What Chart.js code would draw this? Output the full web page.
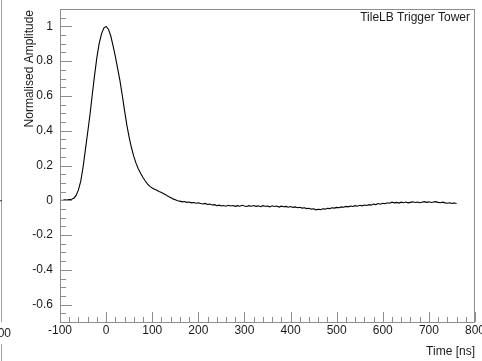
<!DOCTYPE html>
<html>
<head>
<meta charset="utf-8">
<script src="https://cdn.jsdelivr.net/npm/chart.js@4.4.1/dist/chart.umd.min.js"></script>
<style>
  html, body { margin: 0; padding: 0; background: #fff; }
  #wrap { width: 482px; height: 361px; }
</style>
</head>
<body>
<div id="wrap"><canvas id="pulse" width="482" height="361"></canvas></div>
<script>
// sample times (ns)
const times = [
  -100, -95, -90, -85, -80, -75, -70, -65, -60, -55,
  -50, -45, -40, -35, -30, -25, -20, -15, -10, -5,
  0, 5, 10, 15, 20, 25, 30, 35, 40, 45,
  50, 55, 60, 65, 70, 75, 80, 85, 90, 95,
  100, 105, 110, 115, 120, 125, 130, 135, 140, 145,
  150, 155, 160, 165, 170, 175, 180, 185, 190, 195,
  200, 205, 210, 215, 220, 225, 230, 235, 240, 245,
  250, 255, 260, 265, 270, 275, 280, 285, 290, 295,
  300, 305, 310, 315, 320, 325, 330, 335, 340, 345,
  350, 355, 360, 365, 370, 375, 380, 385, 390, 395,
  400, 405, 410, 415, 420, 425, 430, 435, 440, 445,
  450, 455, 460, 465, 470, 475, 480, 485, 490, 495,
  500, 505, 510, 515, 520, 525, 530, 535, 540, 545,
  550, 555, 560, 565, 570, 575, 580, 585, 590, 595,
  600, 605, 610, 615, 620, 625, 630, 635, 640, 645,
  650, 655, 660, 665, 670, 675, 680, 685, 690, 695,
  700, 705, 710, 715, 720, 725, 730, 735, 740, 745,
  750, 755, 760
];

// normalised amplitude
const amplitude = [
  0.002, -0.001, 0.003, 0.001, 0.004, 0.006, 0.012, 0.028, 0.060, 0.110,
  0.190, 0.290, 0.390, 0.492, 0.608, 0.720, 0.822, 0.902, 0.957, 0.990,
  1.000, 0.984, 0.946, 0.890, 0.828, 0.758, 0.688, 0.605, 0.516, 0.432,
  0.362, 0.302, 0.252, 0.212, 0.180, 0.154, 0.131, 0.111, 0.093, 0.080,
  0.071, 0.063, 0.057, 0.050, 0.045, 0.037, 0.031, 0.022, 0.016, 0.008,
  0.003, -0.003, -0.005, -0.009, -0.007, -0.012, -0.010, -0.015, -0.013, -0.017,
  -0.014, -0.019, -0.021, -0.018, -0.024, -0.022, -0.027, -0.025, -0.031, -0.028,
  -0.033, -0.030, -0.034, -0.029, -0.033, -0.030, -0.035, -0.031, -0.034, -0.029,
  -0.033, -0.036, -0.031, -0.034, -0.030, -0.035, -0.032, -0.037, -0.031, -0.034,
  -0.033, -0.038, -0.032, -0.036, -0.033, -0.039, -0.034, -0.037, -0.035, -0.040,
  -0.036, -0.041, -0.038, -0.043, -0.040, -0.045, -0.043, -0.048, -0.046, -0.051,
  -0.049, -0.055, -0.052, -0.054, -0.049, -0.051, -0.046, -0.048, -0.043, -0.045,
  -0.041, -0.043, -0.038, -0.040, -0.035, -0.038, -0.033, -0.036, -0.031, -0.034,
  -0.029, -0.032, -0.027, -0.030, -0.025, -0.028, -0.022, -0.025, -0.019, -0.023,
  -0.017, -0.020, -0.014, -0.017, -0.011, -0.015, -0.012, -0.016, -0.011, -0.014,
  -0.010, -0.015, -0.012, -0.009, -0.013, -0.010, -0.014, -0.011, -0.008, -0.012,
  -0.009, -0.013, -0.010, -0.008, -0.012, -0.014, -0.011, -0.015, -0.017, -0.014,
  -0.018, -0.016, -0.019
];

const xTicks = [-100, 0, 100, 200, 300, 400, 500, 600, 700, 800];
const yTicks = [-0.6, -0.4, -0.2, 0, 0.2, 0.4, 0.6, 0.8, 1];

const FONT = "Liberation Sans, Arial, Helvetica, sans-serif";
const frameColor = "#8e8e8e";
const textColor = "#1a1a1a";

// ROOT-like frame: inward ticks, titles, and the label in the corner
const rootFrame = {
  id: "rootFrame",
  afterDraw(chart) {
    const ctx = chart.ctx;
    const a = chart.chartArea;
    const xs = chart.scales.x, ys = chart.scales.y;
    ctx.save();

    ctx.strokeStyle = frameColor;
    ctx.lineWidth = 1;
    ctx.strokeRect(a.left + 0.5, a.top + 0.5, a.right - a.left - 1, a.bottom - a.top);

    // x ticks (major 100, minor 20)
    ctx.beginPath();
    for (let t = -100; t <= 800; t += 20) {
      const px = Math.round(xs.getPixelForValue(t)) + 0.5;
      const len = (t % 100 === 0) ? 10 : 5;
      ctx.moveTo(px, a.bottom);
      ctx.lineTo(px, a.bottom - len);
    }
    // y ticks (major 0.2, minor 0.05)
    for (let k = -14; k <= 22; k++) {
      const v = k * 0.05;
      const py = Math.round(ys.getPixelForValue(v)) + 0.5;
      const len = (k % 4 === 0) ? 12 : 6;
      ctx.moveTo(a.left, py);
      ctx.lineTo(a.left + len, py);
    }
    ctx.stroke();

    ctx.fillStyle = textColor;
    ctx.font = "12px " + FONT;

    // y title
    ctx.save();
    ctx.translate(30, 10);
    ctx.rotate(-Math.PI / 2);
    ctx.textAlign = "right";
    ctx.textBaseline = "middle";
    ctx.fillText("Normalised Amplitude", 0, 0);
    ctx.restore();

    // x title
    ctx.textAlign = "right";
    ctx.textBaseline = "middle";
    ctx.fillText("Time [ns]", a.right, 352);

    // tag in top right corner
    ctx.fillText("TileLB Trigger Tower", a.right - 5, 18);

    // edge of the neighbouring plot
    ctx.strokeStyle = "#a0a0a0";
    ctx.beginPath();
    ctx.moveTo(1.5, 0);
    ctx.lineTo(1.5, a.bottom);
    ctx.moveTo(1.5, 344);
    ctx.lineTo(1.5, 361);
    ctx.stroke();
    ctx.strokeStyle = "#333";
    ctx.beginPath();
    ctx.moveTo(0, ys.getPixelForValue(0) + 0.5);
    ctx.lineTo(2, ys.getPixelForValue(0) + 0.5);
    ctx.stroke();
    ctx.textAlign = "center";
    ctx.fillText("800", 1, 334);

    ctx.restore();
  }
};

new Chart(document.getElementById("pulse"), {
  type: "line",
  data: {
    datasets: [{
      data: times.map((t, i) => ({ x: t, y: amplitude[i] })),
      borderColor: "#000",
      borderWidth: 1.1,
      pointRadius: 0,
      tension: 0,
      fill: false
    }]
  },
  options: {
    responsive: false,
    animation: false,
    layout: { padding: { top: 9, right: 7, left: 0, bottom: 0 } },
    plugins: { legend: { display: false }, tooltip: { enabled: false } },
    scales: {
      x: {
        type: "linear",
        min: -100,
        max: 800,
        afterFit: (s) => {
          s.height = 39;
          s.paddingLeft = 0; s.paddingRight = 0;
        },
        afterBuildTicks: (s) => { s.ticks = xTicks.map(v => ({ value: v })); },
        grid: { display: false, drawTicks: false, tickLength: 0 },
        border: { display: false },
        ticks: {
          maxRotation: 0,
          autoSkip: false,
          padding: 1,
          color: textColor,
          font: { family: FONT, size: 12 },
          callback: (v) => String(v)
        }
      },
      y: {
        min: -0.7,
        max: 1.1,
        afterFit: (s) => {
          s.width = 60;
          s.paddingTop = 0; s.paddingBottom = 0;
        },
        afterBuildTicks: (s) => { s.ticks = yTicks.map(v => ({ value: v })); },
        grid: { display: false, drawTicks: false, tickLength: 0 },
        border: { display: false },
        ticks: {
          padding: 7,
          color: textColor,
          font: { family: FONT, size: 12 },
          callback: (v) => String(Math.round(v * 10) / 10)
        }
      }
    }
  },
  plugins: [rootFrame]
});
</script>
</body>
</html>
